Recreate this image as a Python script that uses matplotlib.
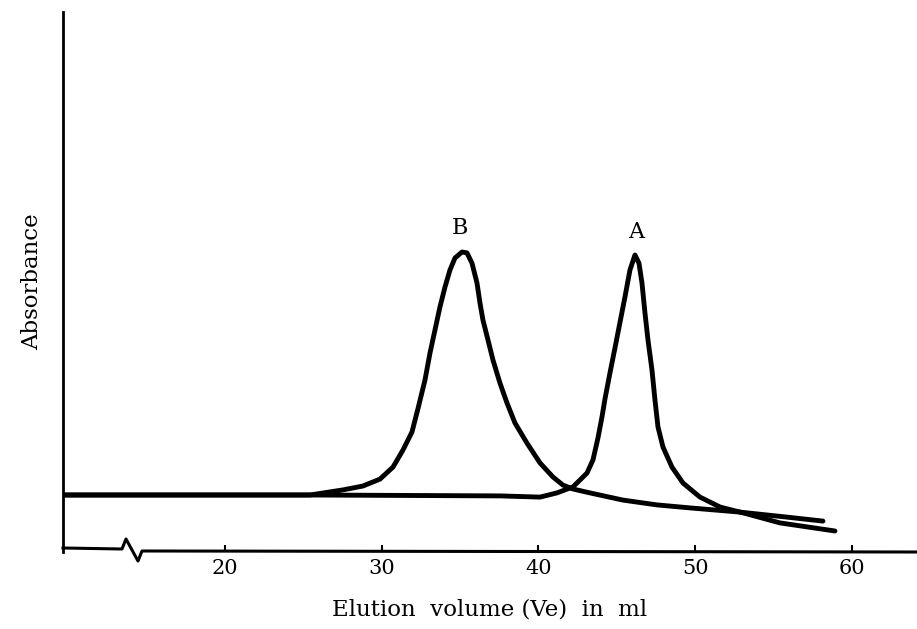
import matplotlib
matplotlib.use("Agg")
import matplotlib.pyplot as plt

# ---- data (x in ml, y in arbitrary absorbance units) ----
b_x = [9.665, 18.405, 25.423, 27.528, 28.804, 29.888, 30.718, 31.356, 31.930, 32.313,
       32.759, 33.078, 33.397, 33.716, 34.035, 34.354, 34.673, 35.120, 35.439, 35.758,
       36.077, 36.268, 36.459, 36.778, 37.097, 37.544, 37.990, 38.501, 39.266, 40.096,
       40.925, 41.563, 42.201, 43.285, 45.391, 47.560, 49.665, 52.855, 55.726, 58.150]
b_y = [0.190, 0.190, 0.190, 0.207, 0.220, 0.243, 0.283, 0.340, 0.400, 0.478,
       0.573, 0.663, 0.740, 0.817, 0.883, 0.940, 0.980, 1.000, 0.997, 0.963,
       0.897, 0.830, 0.773, 0.707, 0.640, 0.563, 0.497, 0.430, 0.363, 0.297,
       0.250, 0.223, 0.210, 0.197, 0.173, 0.157, 0.147, 0.133, 0.117, 0.103]

a_x = [9.665, 25.423, 37.544, 40.096, 41.180, 42.201, 43.094, 43.477, 43.796, 44.051,
       44.242, 44.561, 44.880, 45.199, 45.518, 45.837, 46.156, 46.411, 46.603, 46.794,
       46.986, 47.241, 47.432, 47.624, 47.943, 48.517, 49.219, 50.303, 51.579, 53.301,
       55.407, 58.915]
a_y = [0.190, 0.190, 0.187, 0.183, 0.197, 0.217, 0.263, 0.307, 0.380, 0.450,
       0.510, 0.597, 0.680, 0.765, 0.850, 0.940, 0.990, 0.963, 0.897, 0.797,
       0.707, 0.607, 0.507, 0.417, 0.350, 0.283, 0.230, 0.183, 0.150, 0.127,
       0.097, 0.070]

x_ticks = [20, 30, 40, 50, 60]
peak_labels = ["B", "A"]
peak_label_x = [35.0, 46.2]
peak_label_y = [1.08, 1.065]

FONT = "DejaVu Serif"

fig = plt.figure(figsize=(9.17, 6.29), dpi=100)
ax = fig.add_axes([63 / 917, 77 / 629, 854 / 917, 540 / 629])

for xs, ys in ((b_x, b_y), (a_x, a_y)):
    ax.plot(xs, ys, color="black", lw=3.5, solid_joinstyle="round", solid_capstyle="round")

for t, lx, ly in zip(peak_labels, peak_label_x, peak_label_y):
    ax.text(lx, ly, t, ha="center", va="center", fontsize=16, family=FONT)

ax.set_xlim(9.665, 64.15)
ax.set_ylim(0, 1.8)

for s in ["top", "right", "bottom"]:
    ax.spines[s].set_visible(False)
ax.spines["left"].set_linewidth(2.0)

# x-axis line with a break (zigzag) near the origin
axis_px = [(63, 548), (122, 549), (126, 539), (138, 561), (142, 551), (917, 552)]
ax.plot([(p[0] - 63) / 854 for p in axis_px], [(552 - p[1]) / 540 for p in axis_px],
        transform=ax.transAxes, color="black", lw=2.2, clip_on=False,
        solid_joinstyle="round")

ax.set_xticks(x_ticks)
ax.set_xticklabels([str(t) for t in x_ticks], family=FONT, fontsize=15)
ax.tick_params(axis="x", direction="in", length=5, width=1.5, pad=5)
ax.set_yticks([])

ax.set_xlabel("Elution  volume (Ve)  in  ml", family=FONT, fontsize=16.5, labelpad=15)
ax.set_ylabel("Absorbance", family=FONT, fontsize=16.5, labelpad=14)

fig.savefig("out.png", dpi=100)
